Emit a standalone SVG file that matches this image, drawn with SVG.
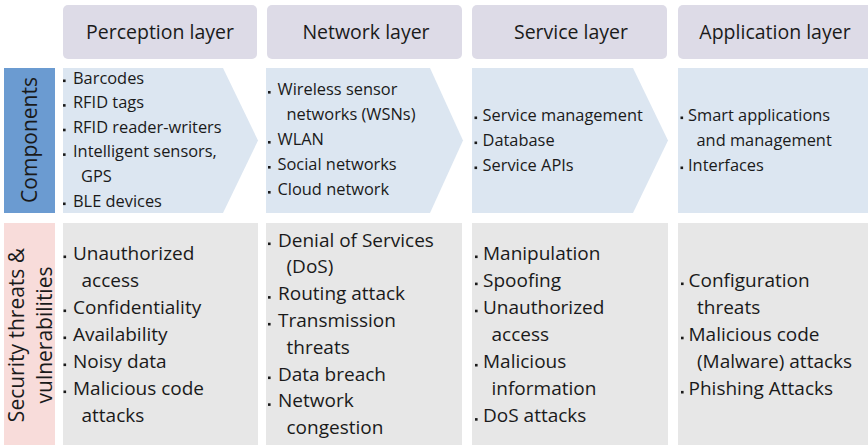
<svg xmlns="http://www.w3.org/2000/svg" width="868" height="445" viewBox="0 0 868 445">
<style>
.hdr{fill:#dddbe7}
.comp{fill:#dce6f1}
.sec{fill:#e7e7e7}
.t{font-family:"Open Sans","Noto Sans","DejaVu Sans",sans-serif;fill:#1a1a1a}
.h{font-size:19.5px;text-anchor:middle}
.c{font-size:16.4px}
.s{font-size:19px}
.lbl{font-size:21px;text-anchor:middle}
.b{fill:#1a1a1a}
</style>
<rect width="868" height="445" fill="#ffffff"/>
<g id="headers">
  <g id="h-perception"><rect class="hdr" x="63" y="5" width="194" height="54" rx="5"/><text class="t h" x="160" y="39">Perception layer</text></g>
  <g id="h-network"><rect class="hdr" x="267" y="5" width="195" height="54" rx="5"/><text class="t h" x="366" y="39">Network layer</text></g>
  <g id="h-service"><rect class="hdr" x="472" y="5" width="195" height="54" rx="5"/><text class="t h" x="571" y="39">Service layer</text></g>
  <g id="h-application"><rect class="hdr" x="678" y="5" width="200" height="54" rx="5"/><text class="t h" x="775" y="39">Application layer</text></g>
</g>
<g id="row-labels">
  <g id="label-components"><rect x="4" y="68" width="51" height="145" fill="#6b9bd1"/><text class="t lbl" transform="translate(37,140) rotate(-90)">Components</text></g>
  <g id="label-security"><rect x="4" y="223" width="51" height="222" fill="#f8dcda"/><text class="t lbl" transform="translate(24,335) rotate(-90)">Security threats &amp;</text><text class="t lbl" transform="translate(51.5,335) rotate(-90)">vulnerabilities</text></g>
</g>
<g id="components">
  <g id="c-perception">
    <polygon class="comp" points="63,68 223,68 258,140.5 223,213 63,213"/>
    <rect class="b" x="63" y="79.5" width="2.6" height="2.6"/><text class="t c" x="73" y="83.5">Barcodes</text>
    <rect class="b" x="63" y="104.1" width="2.6" height="2.6"/><text class="t c" x="73" y="108.1">RFID tags</text>
    <rect class="b" x="63" y="128.7" width="2.6" height="2.6"/><text class="t c" x="73" y="132.7">RFID reader-writers</text>
    <rect class="b" x="63" y="153.3" width="2.6" height="2.6"/><text class="t c" x="73" y="157.3">Intelligent sensors,</text>
    <text class="t c" x="81" y="181.9">GPS</text>
    <rect class="b" x="63" y="202.5" width="2.6" height="2.6"/><text class="t c" x="73" y="206.5">BLE devices</text>
  </g>
  <g id="c-network">
    <polygon class="comp" points="266,68 430,68 463,140.5 430,213 266,213"/>
    <rect class="b" x="268" y="91" width="2.6" height="2.6"/><text class="t c" x="277.5" y="95">Wireless sensor</text>
    <text class="t c" x="286.5" y="120">networks (WSNs)</text>
    <rect class="b" x="268" y="141" width="2.6" height="2.6"/><text class="t c" x="277.5" y="145">WLAN</text>
    <rect class="b" x="268" y="166" width="2.6" height="2.6"/><text class="t c" x="277.5" y="170">Social networks</text>
    <rect class="b" x="268" y="191" width="2.6" height="2.6"/><text class="t c" x="277.5" y="195">Cloud network</text>
  </g>
  <g id="c-service">
    <polygon class="comp" points="472,68 633,68 668,140.5 633,213 472,213"/>
    <rect class="b" x="474.5" y="116.5" width="2.6" height="2.6"/><text class="t c" x="482.5" y="120.5">Service management</text>
    <rect class="b" x="474.5" y="141.5" width="2.6" height="2.6"/><text class="t c" x="482.5" y="145.5">Database</text>
    <rect class="b" x="474.5" y="166.5" width="2.6" height="2.6"/><text class="t c" x="482.5" y="170.5">Service APIs</text>
  </g>
  <g id="c-application">
    <rect class="comp" x="678" y="68" width="200" height="145"/>
    <rect class="b" x="680.5" y="116.5" width="2.6" height="2.6"/><text class="t c" x="688" y="120.5">Smart applications</text>
    <text class="t c" x="696.5" y="145.5">and management</text>
    <rect class="b" x="680.5" y="166.5" width="2.6" height="2.6"/><text class="t c" x="688" y="170.5">Interfaces</text>
  </g>
</g>
<g id="security">
  <g id="s-perception">
    <rect class="sec" x="63" y="223" width="195" height="222"/>
    <rect class="b" x="63.5" y="255.5" width="2.6" height="2.6"/><text class="t s" x="73" y="259.5">Unauthorized</text>
    <text class="t s" x="81.5" y="286.5">access</text>
    <rect class="b" x="63.5" y="309.5" width="2.6" height="2.6"/><text class="t s" x="73" y="313.5">Confidentiality</text>
    <rect class="b" x="63.5" y="336.5" width="2.6" height="2.6"/><text class="t s" x="73" y="340.5">Availability</text>
    <rect class="b" x="63.5" y="363.5" width="2.6" height="2.6"/><text class="t s" x="73" y="367.5">Noisy data</text>
    <rect class="b" x="63.5" y="390.5" width="2.6" height="2.6"/><text class="t s" x="73" y="394.5">Malicious code</text>
    <text class="t s" x="81.5" y="421.5">attacks</text>
  </g>
  <g id="s-network">
    <rect class="sec" x="266" y="223" width="196" height="222"/>
    <rect class="b" x="268" y="242.5" width="2.6" height="2.6"/><text class="t s" x="278" y="246.5">Denial of Services</text>
    <text class="t s" x="286.5" y="273.3">(DoS)</text>
    <rect class="b" x="268" y="296.1" width="2.6" height="2.6"/><text class="t s" x="278" y="300.1">Routing attack</text>
    <rect class="b" x="268" y="322.9" width="2.6" height="2.6"/><text class="t s" x="278" y="326.9">Transmission</text>
    <text class="t s" x="286.5" y="353.7">threats</text>
    <rect class="b" x="268" y="376.5" width="2.6" height="2.6"/><text class="t s" x="278" y="380.5">Data breach</text>
    <rect class="b" x="268" y="403.3" width="2.6" height="2.6"/><text class="t s" x="278" y="407.3">Network</text>
    <text class="t s" x="286.5" y="434.1">congestion</text>
  </g>
  <g id="s-service">
    <rect class="sec" x="472" y="223" width="196" height="222"/>
    <rect class="b" x="475" y="255.5" width="2.6" height="2.6"/><text class="t s" x="483" y="259.5">Manipulation</text>
    <rect class="b" x="475" y="282.6" width="2.6" height="2.6"/><text class="t s" x="483" y="286.6">Spoofing</text>
    <rect class="b" x="475" y="309.7" width="2.6" height="2.6"/><text class="t s" x="483" y="313.7">Unauthorized</text>
    <text class="t s" x="491.5" y="340.8">access</text>
    <rect class="b" x="475" y="363.9" width="2.6" height="2.6"/><text class="t s" x="483" y="367.9">Malicious</text>
    <text class="t s" x="491.5" y="395">information</text>
    <rect class="b" x="475" y="418.1" width="2.6" height="2.6"/><text class="t s" x="483" y="422.1">DoS attacks</text>
  </g>
  <g id="s-application">
    <rect class="sec" x="678" y="223" width="200" height="222"/>
    <rect class="b" x="681" y="282.5" width="2.6" height="2.6"/><text class="t s" x="688.5" y="286.5">Configuration</text>
    <text class="t s" x="697" y="313.6">threats</text>
    <rect class="b" x="681" y="336.7" width="2.6" height="2.6"/><text class="t s" x="688.5" y="340.7">Malicious code</text>
    <text class="t s" x="697" y="367.8">(Malware) attacks</text>
    <rect class="b" x="681" y="390.9" width="2.6" height="2.6"/><text class="t s" x="688.5" y="394.9">Phishing Attacks</text>
  </g>
</g>
<g id="connectors"/>
</svg>
